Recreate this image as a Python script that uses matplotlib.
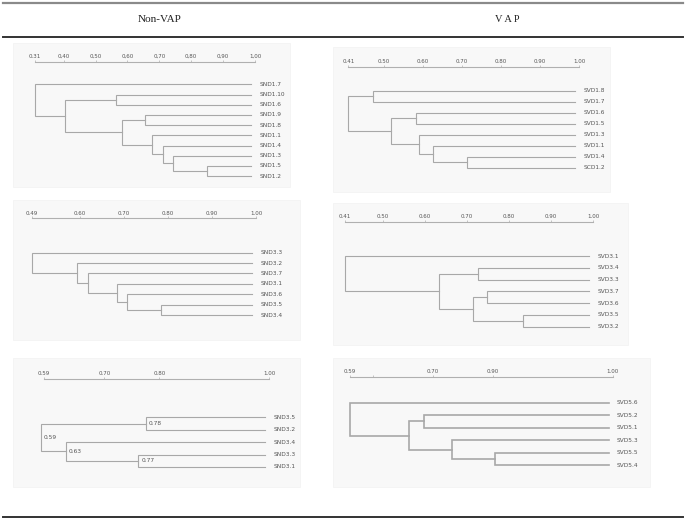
import numpy as np
import matplotlib.pyplot as plt
from matplotlib.patches import Rectangle

W, H = 686, 522

# ---- data: leaves top-to-bottom, merges (child a, child b, similarity) ----
nd1_leaves = ['SND1.7', 'SND1.10', 'SND1.6', 'SND1.9', 'SND1.8',
              'SND1.1', 'SND1.4', 'SND1.3', 'SND1.5', 'SND1.2']
nd1_merges = [(8, 9, 0.85), (7, 10, 0.743), (6, 11, 0.71), (5, 12, 0.678),
              (3, 4, 0.655), (14, 13, 0.582), (1, 2, 0.564), (16, 15, 0.404),
              (0, 17, 0.31)]
nd1_ticks = [0.31, 0.40, 0.50, 0.60, 0.70, 0.80, 0.90, 1.00]
nd1_ticklabels = ['0.31', '0,40', '0,50', '0,60', '0,70', '0,80', '0,90', '1,00']

vd1_leaves = ['SVD1.8', 'SVD1.7', 'SVD1.6', 'SVD1.5', 'SVD1.3',
              'SVD1.1', 'SVD1.4', 'SCD1.2']
vd1_merges = [(6, 7, 0.712), (5, 8, 0.626), (4, 9, 0.591), (2, 3, 0.583),
              (11, 10, 0.52), (0, 1, 0.472), (13, 12, 0.41)]
vd1_ticks = [0.41, 0.50, 0.60, 0.70, 0.80, 0.90, 1.00]
vd1_ticklabels = ['0.41', '0.50', '0.60', '0.70', '0.80', '0.90', '1.00']

nd3_leaves = ['SND3.3', 'SND3.2', 'SND3.7', 'SND3.1', 'SND3.6', 'SND3.5', 'SND3.4']
nd3_merges = [(5, 6, 0.785), (4, 7, 0.707), (3, 8, 0.683), (2, 9, 0.619),
              (1, 10, 0.592), (0, 11, 0.49)]
nd3_ticks = [0.49, 0.60, 0.70, 0.80, 0.90, 1.00]
nd3_ticklabels = ['0.49', '0.60', '0.70', '0.80', '0.90', '1.00']

vd3_leaves = ['SVD3.1', 'SVD3.4', 'SVD3.3', 'SVD3.7', 'SVD3.6', 'SVD3.5', 'SVD3.2']
vd3_merges = [(5, 6, 0.834), (3, 4, 0.747), (1, 2, 0.725), (8, 7, 0.713),
              (9, 10, 0.633), (0, 11, 0.41)]
vd3_ticks = [0.41, 0.50, 0.60, 0.70, 0.80, 0.90, 1.00]
vd3_ticklabels = ['0.41', '0.50', '0.60', '0.70', '0.80', '0.90', '1.00']

nd5_leaves = ['SND3.5', 'SND3.2', 'SND3.4', 'SND3.3', 'SND3.1']
nd5_merges = [(0, 1, 0.775), (3, 4, 0.762), (2, 6, 0.63), (5, 7, 0.585)]
nd5_nodelabels = ['0.78', '0.77', '0.63', '0.59']
nd5_ticks = [0.59, 0.70, 0.80, 1.00]
nd5_ticklabels = ['0.59', '0.70', '0.80', '1.00']

vd5_leaves = ['SVD5.6', 'SVD5.2', 'SVD5.1', 'SVD5.3', 'SVD5.5', 'SVD5.4']
vd5_merges = [(4, 5, 0.803), (3, 6, 0.732), (1, 2, 0.684), (8, 7, 0.659),
              (0, 9, 0.561)]
vd5_ticks = [0.561, 0.60, 0.70, 0.80, 1.00]
vd5_ticklabels = ['0.59', '', '0.70', '0.90', '1.00']

# ---- layout in pixels: box, x of first/last tick, scale line y, first leaf y, leaf step
panels = [
    dict(leaves=nd1_leaves, merges=nd1_merges, ticks=nd1_ticks, tl=nd1_ticklabels,
         box=(13, 43, 290, 187), xpx=(35, 255), sy=62, y0=84.3, dy=10.2, lw=0.8),
    dict(leaves=vd1_leaves, merges=vd1_merges, ticks=vd1_ticks, tl=vd1_ticklabels,
         box=(333, 47, 610, 192), xpx=(348.3, 579.3), sy=66.7, y0=90.7, dy=11, lw=0.8),
    dict(leaves=nd3_leaves, merges=nd3_merges, ticks=nd3_ticks, tl=nd3_ticklabels,
         box=(13, 200, 300, 340), xpx=(31.7, 256), sy=218.3, y0=252.7, dy=10.4, lw=0.8),
    dict(leaves=vd3_leaves, merges=vd3_merges, ticks=vd3_ticks, tl=vd3_ticklabels,
         box=(333, 203, 628, 345), xpx=(345, 593.3), sy=221.7, y0=256, dy=11.8, lw=0.8),
    dict(leaves=nd5_leaves, merges=nd5_merges, ticks=nd5_ticks, tl=nd5_ticklabels,
         box=(13, 358, 300, 487), xpx=(43.8, 269.3), sy=379, y0=417.3, dy=12.4, lw=0.8,
         nodelabels=nd5_nodelabels),
    dict(leaves=vd5_leaves, merges=vd5_merges, ticks=vd5_ticks, tl=vd5_ticklabels,
         box=(333, 358, 650, 487), xpx=(350, 612.7), sy=376.7, y0=402.7, dy=12.5, lw=1.2),
]

line_c = '#a8a8a8'
text_c = '#555555'

fig = plt.figure(figsize=(W / 100, H / 100), dpi=100)

# table rules and headers
top = fig.add_axes([0, 0, 1, 1])
top.set_xlim(0, W)
top.set_ylim(H, 0)
top.axis('off')
top.plot([3, 683], [3, 3], color='#8a8a8a', lw=1.6)
top.plot([3, 683], [37, 37], color='#333333', lw=1.4)
top.plot([3, 683], [517, 517], color='#333333', lw=1.4)
top.text(160, 20, 'Non-VAP', family='Liberation Serif', fontsize=8,
         ha='center', va='center', color='#222222')
top.text(507, 20, 'V A P', family='Liberation Serif', fontsize=7.5,
         ha='center', va='center', color='#222222')
for p in panels:
    x0, y0b, x1, y1b = p['box']
    top.add_patch(Rectangle((x0, y0b), x1 - x0, y1b - y0b, facecolor='#f8f8f8',
                            edgecolor='#f2f2f2', lw=0.5))

for p in panels:
    leaves, merges = p['leaves'], p['merges']
    n = len(leaves)
    lo, hi = p['ticks'][0], p['ticks'][-1]
    px0, px1 = p['xpx']
    bottom_px = p['box'][3] - 4
    # axes from scale line down to near box bottom
    ax = fig.add_axes([px0 / W, 1 - bottom_px / H, (px1 - px0) / W, (bottom_px - p['sy']) / H])
    ax.patch.set_alpha(0)
    ax.set_xlim(lo, hi)
    ax.set_ylim((bottom_px - p['y0']) / p['dy'], (p['sy'] - p['y0']) / p['dy'])
    for s in ['left', 'right', 'bottom']:
        ax.spines[s].set_visible(False)
    ax.spines['top'].set_color('#b0b0b0')
    ax.spines['top'].set_linewidth(0.8)
    ax.xaxis.tick_top()
    ax.set_xticks(p['ticks'])
    ax.set_xticklabels(p['tl'], fontsize=4, color=text_c)
    ax.tick_params(axis='x', length=1.5, width=0.5, color='#b0b0b0', pad=0.5)
    ax.set_yticks([])

    ppu = (px1 - px0) / (hi - lo)
    leaf_end = hi - 4 / ppu
    xs = [leaf_end] * n
    ys = list(np.arange(n, dtype=float))
    for k, (a, b, sim) in enumerate(merges):
        ax.plot([xs[a], sim, sim, xs[b]], [ys[a], ys[a], ys[b], ys[b]],
                color=line_c, lw=p['lw'], solid_joinstyle='miter', clip_on=False)
        xs.append(sim)
        ys.append((ys[a] + ys[b]) / 2)
        if 'nodelabels' in p:
            ax.annotate(p['nodelabels'][k], (sim, ys[-1]), xytext=(2, 0),
                        textcoords='offset points', fontsize=4.2, color=text_c,
                        ha='left', va='center', annotation_clip=False)
    for i, name in enumerate(leaves):
        ax.annotate(name, (hi, i), xytext=(3, 0), textcoords='offset points',
                    fontsize=4.2, color=text_c, ha='left', va='center',
                    annotation_clip=False)

fig.savefig('out.png', dpi=100)
